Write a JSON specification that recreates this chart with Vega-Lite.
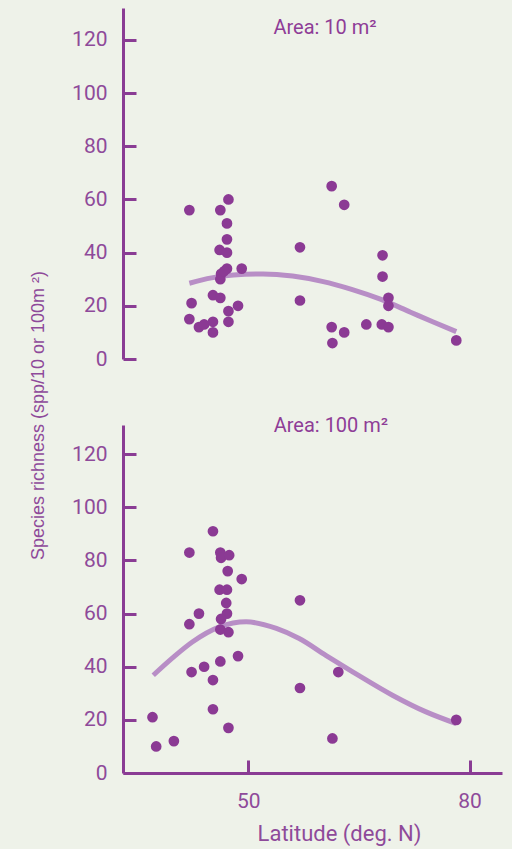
{
  "$schema": "https://vega.github.io/schema/vega-lite/v6.json",
  "background": "#eef2e9",
  "padding": {"left": 29, "top": 8, "right": 10, "bottom": 5},
  "config": {
    "font": "Roboto",
    "view": {"stroke": null},
    "axis": {"grid": false, "domainColor": "#8a3c94", "domainWidth": 3, "tickColor": "#8a3c94", "tickWidth": 3, "tickSize": -13, "labelColor": "#8e4a9a", "labelFontSize": 21, "labelFont": "Roboto", "titleColor": "#8e4a9a", "titleFont": "Roboto", "titleFontWeight": "normal"},
    "concat": {"spacing": 66}
  },
  "bounds": "flush",
  "datasets": {
    "pts": [
      {"area": 10, "lat": 42.0, "rich": 56},
      {"area": 10, "lat": 42.3, "rich": 21},
      {"area": 10, "lat": 42.0, "rich": 15},
      {"area": 10, "lat": 43.3, "rich": 12},
      {"area": 10, "lat": 44.0, "rich": 13},
      {"area": 10, "lat": 45.2, "rich": 14},
      {"area": 10, "lat": 45.2, "rich": 10},
      {"area": 10, "lat": 45.2, "rich": 24},
      {"area": 10, "lat": 46.2, "rich": 23},
      {"area": 10, "lat": 46.2, "rich": 56},
      {"area": 10, "lat": 47.3, "rich": 60},
      {"area": 10, "lat": 47.1, "rich": 51},
      {"area": 10, "lat": 47.1, "rich": 45},
      {"area": 10, "lat": 46.1, "rich": 41},
      {"area": 10, "lat": 47.1, "rich": 40},
      {"area": 10, "lat": 46.3, "rich": 32},
      {"area": 10, "lat": 46.2, "rich": 30},
      {"area": 10, "lat": 47.1, "rich": 34},
      {"area": 10, "lat": 46.7, "rich": 33},
      {"area": 10, "lat": 49.1, "rich": 34},
      {"area": 10, "lat": 47.3, "rich": 18},
      {"area": 10, "lat": 47.3, "rich": 14},
      {"area": 10, "lat": 48.6, "rich": 20},
      {"area": 10, "lat": 57.0, "rich": 42},
      {"area": 10, "lat": 57.0, "rich": 22},
      {"area": 10, "lat": 61.3, "rich": 65},
      {"area": 10, "lat": 63.0, "rich": 58},
      {"area": 10, "lat": 61.3, "rich": 12},
      {"area": 10, "lat": 61.4, "rich": 6},
      {"area": 10, "lat": 63.0, "rich": 10},
      {"area": 10, "lat": 66.0, "rich": 13},
      {"area": 10, "lat": 68.2, "rich": 39},
      {"area": 10, "lat": 68.2, "rich": 31},
      {"area": 10, "lat": 69.0, "rich": 23},
      {"area": 10, "lat": 69.0, "rich": 20},
      {"area": 10, "lat": 68.1, "rich": 13},
      {"area": 10, "lat": 69.0, "rich": 12},
      {"area": 10, "lat": 78.2, "rich": 7},
      {"area": 100, "lat": 37.0, "rich": 21},
      {"area": 100, "lat": 37.5, "rich": 10},
      {"area": 100, "lat": 39.9, "rich": 12},
      {"area": 100, "lat": 42.0, "rich": 83},
      {"area": 100, "lat": 42.0, "rich": 56},
      {"area": 100, "lat": 42.3, "rich": 38},
      {"area": 100, "lat": 43.3, "rich": 60},
      {"area": 100, "lat": 44.0, "rich": 40},
      {"area": 100, "lat": 45.2, "rich": 91},
      {"area": 100, "lat": 45.2, "rich": 35},
      {"area": 100, "lat": 45.2, "rich": 24},
      {"area": 100, "lat": 46.2, "rich": 83},
      {"area": 100, "lat": 46.3, "rich": 81},
      {"area": 100, "lat": 47.4, "rich": 82},
      {"area": 100, "lat": 47.2, "rich": 76},
      {"area": 100, "lat": 49.1, "rich": 73},
      {"area": 100, "lat": 46.1, "rich": 69},
      {"area": 100, "lat": 47.1, "rich": 69},
      {"area": 100, "lat": 47.0, "rich": 64},
      {"area": 100, "lat": 47.1, "rich": 60},
      {"area": 100, "lat": 46.3, "rich": 58},
      {"area": 100, "lat": 46.2, "rich": 54},
      {"area": 100, "lat": 47.3, "rich": 53},
      {"area": 100, "lat": 46.2, "rich": 42},
      {"area": 100, "lat": 48.6, "rich": 44},
      {"area": 100, "lat": 47.3, "rich": 17},
      {"area": 100, "lat": 57.0, "rich": 65},
      {"area": 100, "lat": 57.0, "rich": 32},
      {"area": 100, "lat": 62.2, "rich": 38},
      {"area": 100, "lat": 61.4, "rich": 13},
      {"area": 100, "lat": 78.2, "rich": 20}
    ],
    "fit": [
      {"area": 10, "lat": 42.0, "rich": 28.5},
      {"area": 10, "lat": 45.0, "rich": 30.5},
      {"area": 10, "lat": 48.0, "rich": 31.6},
      {"area": 10, "lat": 52.0, "rich": 32.0},
      {"area": 10, "lat": 56.0, "rich": 31.2},
      {"area": 10, "lat": 60.0, "rich": 29.2},
      {"area": 10, "lat": 64.0, "rich": 26.2},
      {"area": 10, "lat": 68.0, "rich": 22.4},
      {"area": 10, "lat": 72.0, "rich": 17.6},
      {"area": 10, "lat": 75.0, "rich": 14.0},
      {"area": 10, "lat": 78.2, "rich": 10.3},
      {"area": 100, "lat": 37.1, "rich": 36.8},
      {"area": 100, "lat": 40.0, "rich": 44.0},
      {"area": 100, "lat": 42.4, "rich": 49.3},
      {"area": 100, "lat": 46.1, "rich": 55.0},
      {"area": 100, "lat": 49.7, "rich": 56.9},
      {"area": 100, "lat": 53.8, "rich": 54.4},
      {"area": 100, "lat": 56.9, "rich": 50.6},
      {"area": 100, "lat": 60.5, "rich": 44.3},
      {"area": 100, "lat": 64.2, "rich": 38.0},
      {"area": 100, "lat": 69.6, "rich": 29.2},
      {"area": 100, "lat": 74.1, "rich": 23.0},
      {"area": 100, "lat": 78.2, "rich": 18.6}
    ]
  },
  "vconcat": [
    {
      "width": 379,
      "height": 351,
      "layer": [
        {
          "data": {"name": "fit"},
          "transform": [{"filter": "datum.area == 10"}],
          "mark": {"type": "line", "interpolate": "monotone", "strokeWidth": 5, "color": "#b88ec6"},
          "encoding": {
            "x": {"field": "lat", "type": "quantitative", "scale": {"domain": [33, 84.4], "nice": false}, "axis": null},
            "y": {"field": "rich", "type": "quantitative", "scale": {"domain": [0, 132], "nice": false}, "axis": {"values": [0, 20, 40, 60, 80, 100, 120], "title": null, "labelPadding": 29}}
          }
        },
        {
          "data": {"name": "pts"},
          "transform": [{"filter": "datum.area == 10"}],
          "mark": {"type": "circle", "size": 115, "opacity": 1, "color": "#8b3a94"},
          "encoding": {
            "x": {"field": "lat", "type": "quantitative"},
            "y": {"field": "rich", "type": "quantitative"}
          }
        },
        {
          "data": {"values": [{"label": "Area: 10 m²"}]},
          "mark": {"type": "text", "fontSize": 20, "color": "#8e3d97", "baseline": "middle", "align": "center", "font": "Roboto"},
          "encoding": {
            "x": {"datum": 60.4, "type": "quantitative"},
            "y": {"datum": 124.5, "type": "quantitative"},
            "text": {"field": "label"}
          }
        }
      ]
    },
    {
      "width": 379,
      "height": 348,
      "layer": [
        {
          "data": {"name": "fit"},
          "transform": [{"filter": "datum.area == 100"}],
          "mark": {"type": "line", "interpolate": "monotone", "strokeWidth": 5, "color": "#b88ec6"},
          "encoding": {
            "x": {"field": "lat", "type": "quantitative", "scale": {"domain": [33, 84.4], "nice": false}, "axis": {"values": [50, 80], "title": "Latitude (deg. N)", "labelPadding": 30, "titleFontSize": 22, "titleX": 216, "titlePadding": 12}},
            "y": {"field": "rich", "type": "quantitative", "scale": {"domain": [0, 131], "nice": false}, "axis": {"values": [0, 20, 40, 60, 80, 100, 120], "title": "Species richness (spp/10 or 100m ²)", "titleFont": "Liberation Sans", "labelPadding": 29, "titleFontSize": 18, "titlePadding": 24, "titleY": -10}}
          }
        },
        {
          "data": {"name": "pts"},
          "transform": [{"filter": "datum.area == 100"}],
          "mark": {"type": "circle", "size": 115, "opacity": 1, "color": "#8b3a94"},
          "encoding": {
            "x": {"field": "lat", "type": "quantitative"},
            "y": {"field": "rich", "type": "quantitative"}
          }
        },
        {
          "data": {"values": [{"label": "Area: 100 m²"}]},
          "mark": {"type": "text", "fontSize": 20, "color": "#8e3d97", "baseline": "middle", "align": "center", "font": "Roboto"},
          "encoding": {
            "x": {"datum": 61.2, "type": "quantitative"},
            "y": {"datum": 130.5, "type": "quantitative"},
            "text": {"field": "label"}
          }
        }
      ]
    }
  ]
}
